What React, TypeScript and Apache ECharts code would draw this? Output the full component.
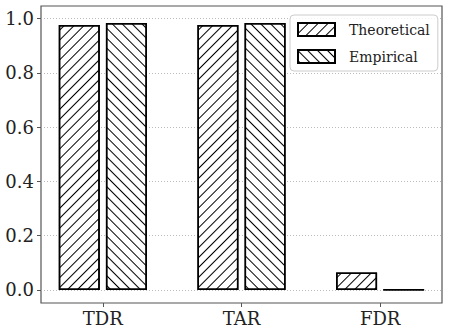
import React, { useEffect, useRef } from "react";
import * as echarts from "echarts";

const categories = ["TDR", "TAR", "FDR"];
const theoretical = [0.977, 0.977, 0.064];
const empirical = [0.984, 0.984, 0.001];
const yTicks = [0, 0.2, 0.4, 0.6, 0.8, 1.0];
const xTicks = [0, 1, 2];
const seriesNames = ["Theoretical", "Empirical"];

const FONT = "DejaVu Serif";

const hatch = (rotation: number) => ({
  symbol: "rect",
  symbolSize: 1,
  color: "#000",
  backgroundColor: "#fff",
  dashArrayX: [1, 0],
  dashArrayY: [1, 6],
  rotation,
});

export default function App() {
  const ref = useRef<HTMLDivElement>(null);
  useEffect(() => {
    if (!ref.current) return;
    const chart = echarts.init(ref.current, undefined, { renderer: "svg" });
    const option: any = {
      animation: false,
      aria: { enabled: true, label: { enabled: false }, decal: { show: true } },
      grid: {
        left: 41,
        top: 6,
        right: 7,
        bottom: 32,
        show: true,
        borderColor: "#555",
        borderWidth: 1.2,
        backgroundColor: "transparent",
      },
      legend: {
        left: 290,
        top: 15,
        orient: "vertical",
        itemWidth: 37,
        itemHeight: 13,
        itemGap: 12,
        padding: [7, 8, 7, 7],
        backgroundColor: "rgba(255,255,255,0.8)",
        borderColor: "#ccc",
        borderWidth: 1,
        borderRadius: 4,
        icon: "rect",
        textStyle: { fontFamily: FONT, fontSize: 14, color: "#222", padding: [0, 0, 0, 9] },
        data: seriesNames,
      },
      xAxis: {
        type: "value",
        min: -0.446,
        max: 2.446,
        axisLine: { show: false, onZero: false },
        splitLine: { show: false },
        axisTick: { show: true, customValues: xTicks, length: 4, lineStyle: { color: "#555" } },
        axisLabel: {
          customValues: xTicks,
          formatter: (v: number) => categories[Math.round(v)] ?? "",
          fontSize: 18,
          fontFamily: FONT,
          color: "#222",
          margin: 6,
        },
      },
      yAxis: {
        type: "value",
        min: -0.048,
        max: 1.047,
        axisLine: { show: false, onZero: false },
        axisTick: { show: true, customValues: yTicks, length: 4, lineStyle: { color: "#555" } },
        axisLabel: {
          customValues: yTicks,
          formatter: (v: number) => v.toFixed(1),
          fontSize: 18,
          fontFamily: FONT,
          color: "#222",
          margin: 7,
        },
        splitLine: { show: true, lineStyle: { type: [1, 2], color: "#aaa", width: 0.8 } },
      },
      series: [
        {
          name: seriesNames[0],
          type: "bar",
          barWidth: 41,
          barGap: "15%",
          data: theoretical.map((v, i) => [i, v]),
          itemStyle: { color: "#fff", borderColor: "#000", borderWidth: 1.5, decal: hatch(-Math.PI / 4) },
        },
        {
          name: seriesNames[1],
          type: "bar",
          barWidth: 41,
          barGap: "15%",
          data: empirical.map((v, i) => [i, v]),
          itemStyle: { color: "#fff", borderColor: "#000", borderWidth: 1.5, decal: hatch(Math.PI / 4) },
        },
      ],
    };
    chart.setOption(option);
    return () => chart.dispose();
  }, []);
  return (
    <div
      ref={ref}
      style={{ position: "fixed", left: 0, top: 0, width: 449, height: 335, background: "#fff" }}
    />
  );
}
